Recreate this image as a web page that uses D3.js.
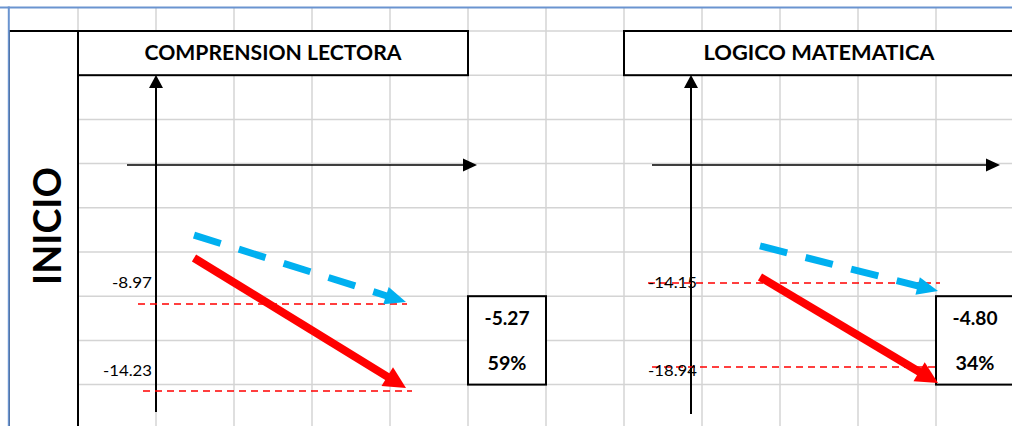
<!DOCTYPE html>
<html><head><meta charset="utf-8">
<script src="https://cdn.jsdelivr.net/npm/d3@7"></script>
<style>html,body{margin:0;padding:0;background:#fff;} svg{display:block;}</style>
</head><body>
<svg id="c" width="1012" height="426"></svg>
<script>
// ---------- data ----------
const subjects = ["COMPRENSION LECTORA", "LOGICO MATEMATICA"];
const rowLabel = "INICIO";
const blueLevel = [-8.97, -14.15];
const redLevel = [-14.23, -18.94];
const levelLabels = [["-8.97", "-14.23"], ["-14.15", "-18.94"]];
const diffLabels = ["-5.27", "-4.80"];
const pctLabels = ["59%", "34%"];
// arrow start / end values (estimated)
const blueStart = [-4.52, -9.71];
const blueEnd = [-8.84, -14.61];
const redStart = [-6.0, -13.43];
const redEnd = [-14.05, -19.85];

// ---------- layout ----------
const W = 1012, H = 426;
const svg = d3.select("#c");
const FONT = "Lato, 'Open Sans', sans-serif";
const colX = d3.scaleLinear().domain([0, 13]).range([0, 1014]);
const rowY = d3.scaleLinear().domain([0, 9]).range([31, 31 + 9 * 44.2]);
const GRID = "#d4d4d4";

const layout = [
  { title: [1, 6], yAxisX: 156, xAxis: [127, 477], axisTop: 75, axisBottom: 412, xAxisY: 165,
    arrowX: [194, 406], yRange: [304, 391], box: 6, labelRight: 152,
    dashU: [138, 407], dashL: [143, 412] },
  { title: [8, 13], yAxisX: 691, xAxis: [652, 1000], axisTop: 75, axisBottom: 414, xAxisY: 165,
    arrowX: [760, 938], yRange: [283, 367], box: 12, labelRight: 697,
    dashU: [648, 940], dashL: [652, 935] }
];

// ---------- grid ----------
const grid = svg.append("g");
d3.range(0, 14).forEach(c => {
  grid.append("line").attr("x1", colX(c)).attr("x2", colX(c)).attr("y1", 0).attr("y2", H)
    .attr("stroke", GRID).attr("stroke-width", 1.5);
});
d3.range(-1, 10).forEach(r => {
  grid.append("line").attr("x1", 0).attr("x2", W).attr("y1", rowY(r)).attr("y2", rowY(r))
    .attr("stroke", GRID).attr("stroke-width", 1.5);
});
svg.append("rect").attr("x", 0).attr("y", 0).attr("width", W).attr("height", 7).attr("fill", "#fff");
svg.append("rect").attr("x", 0).attr("y", 0).attr("width", 8).attr("height", H).attr("fill", "#fff");

// size text by cap height, then fit to measured width
function fitText(sel, targetW, capH) {
  sel.style("font-size", (capH / 0.72) + "px")
    .attr("textLength", targetW).attr("lengthAdjust", "spacingAndGlyphs");
  return sel;
}

// merged cell: INICIO
const cellG = svg.append("g");
cellG.append("rect").attr("x", 9).attr("y", rowY(0)).attr("width", colX(1) - 9).attr("height", H)
  .attr("fill", "#fff").attr("stroke", "#000").attr("stroke-width", 2);
const inicio = cellG.append("text")
  .attr("transform", `translate(61,226) rotate(-90)`)
  .attr("text-anchor", "middle").attr("font-family", FONT).attr("font-weight", 700)
  .text(rowLabel);
fitText(inicio, 118, 28);

// blue frame
svg.append("line").attr("x1", 0).attr("x2", W).attr("y1", 7.5).attr("y2", 7.5)
  .attr("stroke", "#6a94d0").attr("stroke-width", 2);
svg.append("line").attr("x1", 8.8).attr("x2", 8.8).attr("y1", 6.5).attr("y2", H)
  .attr("stroke", "#6a94d0").attr("stroke-width", 2);

function arrow(g, x1, y1, x2, y2, color, sw, headLen, headHalf, dash) {
  const dx = x2 - x1, dy = y2 - y1, len = Math.hypot(dx, dy);
  const ux = dx / len, uy = dy / len;
  const bx = x2 - ux * headLen, by = y2 - uy * headLen;
  const ln = g.append("line").attr("x1", x1).attr("y1", y1).attr("x2", bx + ux * 1).attr("y2", by + uy * 1)
    .attr("stroke", color).attr("stroke-width", sw);
  if (dash) ln.attr("stroke-dasharray", dash);
  g.append("path")
    .attr("d", `M${x2},${y2}L${bx - uy * headHalf},${by + ux * headHalf}L${bx + uy * headHalf},${by - ux * headHalf}Z`)
    .attr("fill", color);
}

layout.forEach((L, i) => {
  const g = svg.append("g");
  // title box
  const tx0 = colX(L.title[0]), tx1 = colX(L.title[1]);
  g.append("rect").attr("x", tx0).attr("y", rowY(0)).attr("width", tx1 - tx0).attr("height", rowY(1) - rowY(0))
    .attr("fill", "#fff").attr("stroke", "#000").attr("stroke-width", 2);
  const t = g.append("text").attr("x", (tx0 + tx1) / 2).attr("y", 60)
    .attr("text-anchor", "middle").attr("font-family", FONT).attr("font-weight", 700)
    .text(subjects[i]);
  fitText(t, i === 0 ? 257 : 231, 15);

  // value box
  const bx0 = colX(L.box), bx1 = colX(L.box + 1);
  g.append("rect").attr("x", bx0).attr("y", rowY(6)).attr("width", bx1 - bx0).attr("height", rowY(8) - rowY(6))
    .attr("fill", "#fff").attr("stroke", "#000").attr("stroke-width", 2);
  const vd = g.append("text").attr("x", (bx0 + bx1) / 2).attr("y", 325)
    .attr("text-anchor", "middle").attr("font-family", FONT).attr("font-weight", 700).text(diffLabels[i]);
  fitText(vd, 45, 13);
  const vp = g.append("text").attr("x", (bx0 + bx1) / 2).attr("y", 370)
    .attr("text-anchor", "middle").attr("font-family", FONT).attr("font-weight", 700).text(pctLabels[i]);
  fitText(vp, 39, 13);

  // scales
  const y = d3.scaleLinear().domain([0, blueLevel[i], redLevel[i]]).range([L.xAxisY, L.yRange[0], L.yRange[1]]);
  const x = d3.scaleLinear().domain([0, 1]).range(L.arrowX);

  // axes
  g.append("line").attr("x1", L.yAxisX).attr("x2", L.yAxisX).attr("y1", L.axisTop + 12).attr("y2", L.axisBottom)
    .attr("stroke", "#000").attr("stroke-width", 2);
  g.append("path").attr("d", `M${L.yAxisX},${L.axisTop}L${L.yAxisX - 7},${L.axisTop + 13}L${L.yAxisX + 7},${L.axisTop + 13}Z`)
    .attr("fill", "#000");
  g.append("line").attr("x1", L.xAxis[0]).attr("x2", L.xAxis[1] - 12).attr("y1", L.xAxisY).attr("y2", L.xAxisY)
    .attr("stroke", "#000").attr("stroke-width", 1.6);
  g.append("path").attr("d", `M${L.xAxis[1]},${L.xAxisY}L${L.xAxis[1] - 14},${L.xAxisY - 6.5}L${L.xAxis[1] - 14},${L.xAxisY + 6.5}Z`)
    .attr("fill", "#000");

  // reference dashed lines
  [[blueLevel[i], L.dashU], [redLevel[i], L.dashL]].forEach(([v, ext]) => {
    g.append("line").attr("x1", ext[0]).attr("x2", ext[1]).attr("y1", y(v)).attr("y2", y(v))
      .attr("stroke", "#ff0000").attr("stroke-width", 1.5).attr("stroke-dasharray", "7,5");
  });
  // level labels
  [[levelLabels[i][0], 288], [levelLabels[i][1], 376]].forEach(([s, by]) => {
    const lt = g.append("text").attr("x", L.labelRight).attr("y", by)
      .attr("text-anchor", "end").attr("font-family", FONT).text(s);
    fitText(lt, s.length === 5 ? 40 : 49, 11);
  });

  // arrows
  arrow(g, x(0), y(blueStart[i]), x(1), y(blueEnd[i]), "#00b0f0", 7, 21, 9, "28,19");
  arrow(g, x(0), y(redStart[i]), x(1), y(redEnd[i]), "#ff0000", 8, 22, 11, null);
});
</script>
</body></html>
